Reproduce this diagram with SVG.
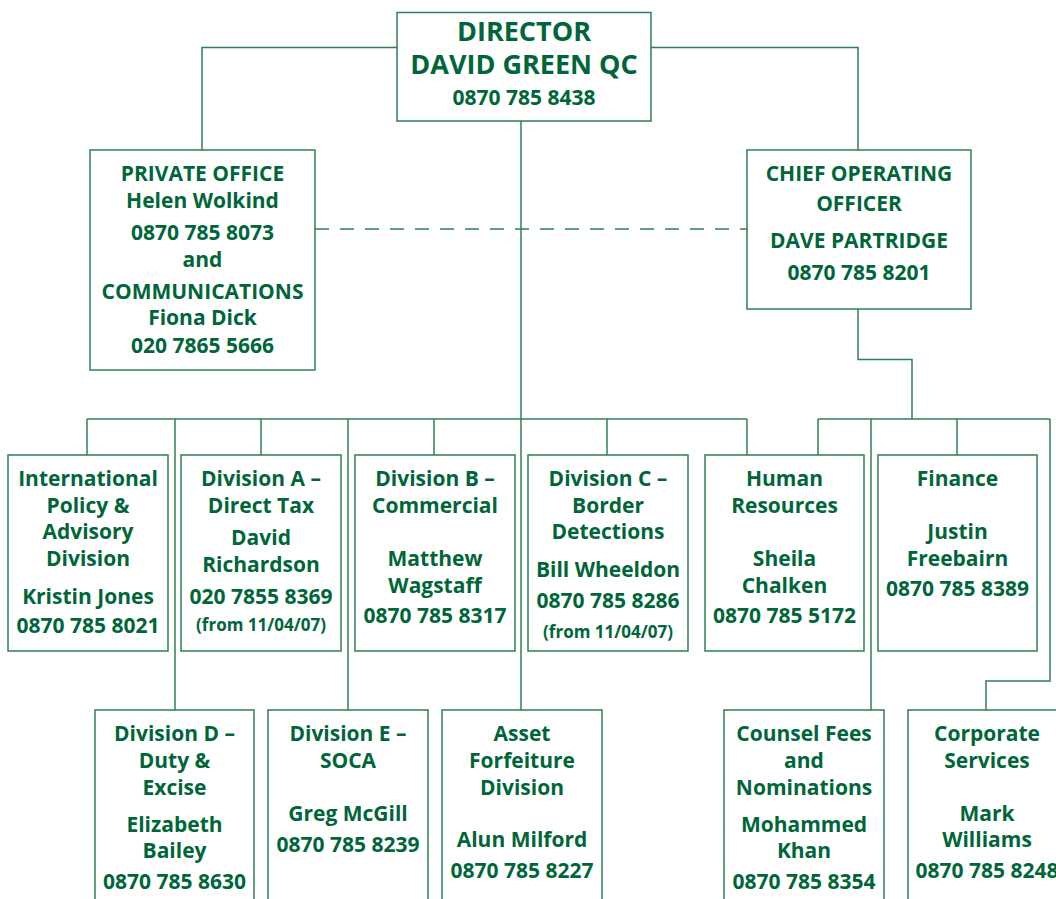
<svg xmlns="http://www.w3.org/2000/svg" width="1056" height="899" viewBox="0 0 1056 899">
  <style>
    .box { fill: #ffffff; stroke: #2f8052; stroke-width: 1.5; }
    .wire { fill: none; stroke: #2f8052; stroke-width: 1.5; }
    .dash { fill: none; stroke: #2f8052; stroke-width: 1.5; stroke-dasharray: 14 11; }
    text { font-family: "Open Sans", "Noto Sans", "Liberation Sans", sans-serif; font-weight: 700; fill: #00663a; text-anchor: middle; font-size: 21px; }
    .big { font-size: 27px; }
    .small { font-size: 17px; }
  </style>
  <rect width="1056" height="899" fill="#ffffff"/>

  <!-- connectors -->
  <g id="connectors">
    <polyline class="wire" points="397,47.5 202,47.5 202,150"/>
    <polyline class="wire" points="651,47.5 858,47.5 858,150"/>
    <line class="dash" x1="315" y1="229" x2="747" y2="229"/>
    <line class="wire" x1="521" y1="121" x2="521" y2="710"/>
    <polyline class="wire" points="858,309 858,359.5 912,359.5 912,419"/>
    <!-- left bus -->
    <line class="wire" x1="87" y1="419" x2="747" y2="419"/>
    <line class="wire" x1="87" y1="419" x2="87" y2="455"/>
    <line class="wire" x1="261" y1="419" x2="261" y2="455"/>
    <line class="wire" x1="434" y1="419" x2="434" y2="455"/>
    <line class="wire" x1="607" y1="419" x2="607" y2="455"/>
    <line class="wire" x1="747" y1="419" x2="747" y2="455"/>
    <line class="wire" x1="175" y1="419" x2="175" y2="710"/>
    <line class="wire" x1="348" y1="419" x2="348" y2="710"/>
    <!-- right bus -->
    <line class="wire" x1="818" y1="419" x2="1050" y2="419"/>
    <line class="wire" x1="818" y1="419" x2="818" y2="455"/>
    <line class="wire" x1="957" y1="419" x2="957" y2="455"/>
    <line class="wire" x1="871" y1="419" x2="871" y2="710"/>
    <polyline class="wire" points="1050,419 1050,681 986,681 986,710"/>
  </g>

  <g id="director">
    <rect class="box" x="397" y="12.5" width="254" height="108.5"/>
    <text class="big" x="524" y="41">DIRECTOR</text>
    <text class="big" x="524" y="74">DAVID GREEN QC</text>
    <text x="524" y="105">0870 785 8438</text>
  </g>

  <g id="private-office">
    <rect class="box" x="90" y="150" width="225" height="220"/>
    <text x="202.5" y="181">PRIVATE OFFICE</text>
    <text x="202.5" y="208">Helen Wolkind</text>
    <text x="202.5" y="240">0870 785 8073</text>
    <text x="202.5" y="267">and</text>
    <text x="202.5" y="299">COMMUNICATIONS</text>
    <text x="202.5" y="325">Fiona Dick</text>
    <text x="202.5" y="353">020 7865 5666</text>
  </g>

  <g id="chief-operating-officer">
    <rect class="box" x="747" y="150" width="224" height="159"/>
    <text x="859" y="181">CHIEF OPERATING</text>
    <text x="859" y="211">OFFICER</text>
    <text x="859" y="248">DAVE PARTRIDGE</text>
    <text x="859" y="280">0870 785 8201</text>
  </g>

  <g id="international-policy">
    <rect class="box" x="8" y="455" width="160" height="196"/>
    <text x="88" y="486">International</text>
    <text x="88" y="513">Policy &amp;</text>
    <text x="88" y="539">Advisory</text>
    <text x="88" y="566">Division</text>
    <text x="88" y="604">Kristin Jones</text>
    <text x="88" y="633">0870 785 8021</text>
  </g>

  <g id="division-a">
    <rect class="box" x="181" y="455" width="160" height="196"/>
    <text x="261" y="486">Division A –</text>
    <text x="261" y="513">Direct Tax</text>
    <text x="261" y="545">David</text>
    <text x="261" y="572">Richardson</text>
    <text x="261" y="604">020 7855 8369</text>
    <text class="small" x="261" y="631">(from 11/04/07)</text>
  </g>

  <g id="division-b">
    <rect class="box" x="355" y="455" width="160" height="196"/>
    <text x="435" y="486">Division B –</text>
    <text x="435" y="513">Commercial</text>
    <text x="435" y="566">Matthew</text>
    <text x="435" y="593">Wagstaff</text>
    <text x="435" y="623">0870 785 8317</text>
  </g>

  <g id="division-c">
    <rect class="box" x="528" y="455" width="160" height="196"/>
    <text x="608" y="486">Division C –</text>
    <text x="608" y="513">Border</text>
    <text x="608" y="539">Detections</text>
    <text x="608" y="577">Bill Wheeldon</text>
    <text x="608" y="608">0870 785 8286</text>
    <text class="small" x="608" y="638">(from 11/04/07)</text>
  </g>

  <g id="human-resources">
    <rect class="box" x="705" y="455" width="159" height="196"/>
    <text x="784.5" y="486">Human</text>
    <text x="784.5" y="513">Resources</text>
    <text x="784.5" y="566">Sheila</text>
    <text x="784.5" y="593">Chalken</text>
    <text x="784.5" y="623">0870 785 5172</text>
  </g>

  <g id="finance">
    <rect class="box" x="878" y="455" width="159" height="196"/>
    <text x="957.5" y="486">Finance</text>
    <text x="957.5" y="539">Justin</text>
    <text x="957.5" y="566">Freebairn</text>
    <text x="957.5" y="596">0870 785 8389</text>
  </g>

  <g id="division-d">
    <rect class="box" x="95" y="710" width="159" height="220"/>
    <text x="174.5" y="741">Division D –</text>
    <text x="174.5" y="768">Duty &amp;</text>
    <text x="174.5" y="795">Excise</text>
    <text x="174.5" y="832">Elizabeth</text>
    <text x="174.5" y="858">Bailey</text>
    <text x="174.5" y="889">0870 785 8630</text>
  </g>

  <g id="division-e">
    <rect class="box" x="268" y="710" width="160" height="220"/>
    <text x="348" y="741">Division E –</text>
    <text x="348" y="768">SOCA</text>
    <text x="348" y="821">Greg McGill</text>
    <text x="348" y="852">0870 785 8239</text>
  </g>

  <g id="asset-forfeiture">
    <rect class="box" x="442" y="710" width="160" height="220"/>
    <text x="522" y="741">Asset</text>
    <text x="522" y="768">Forfeiture</text>
    <text x="522" y="795">Division</text>
    <text x="522" y="847">Alun Milford</text>
    <text x="522" y="878">0870 785 8227</text>
  </g>

  <g id="counsel-fees">
    <rect class="box" x="724" y="710" width="160" height="220"/>
    <text x="804" y="741">Counsel Fees</text>
    <text x="804" y="768">and</text>
    <text x="804" y="795">Nominations</text>
    <text x="804" y="832">Mohammed</text>
    <text x="804" y="858">Khan</text>
    <text x="804" y="889">0870 785 8354</text>
  </g>

  <g id="corporate-services">
    <rect class="box" x="908" y="710" width="160" height="220"/>
    <text x="987" y="741">Corporate</text>
    <text x="987" y="768">Services</text>
    <text x="987" y="821">Mark</text>
    <text x="987" y="847">Williams</text>
    <text x="987" y="878">0870 785 8248</text>
  </g>
</svg>
